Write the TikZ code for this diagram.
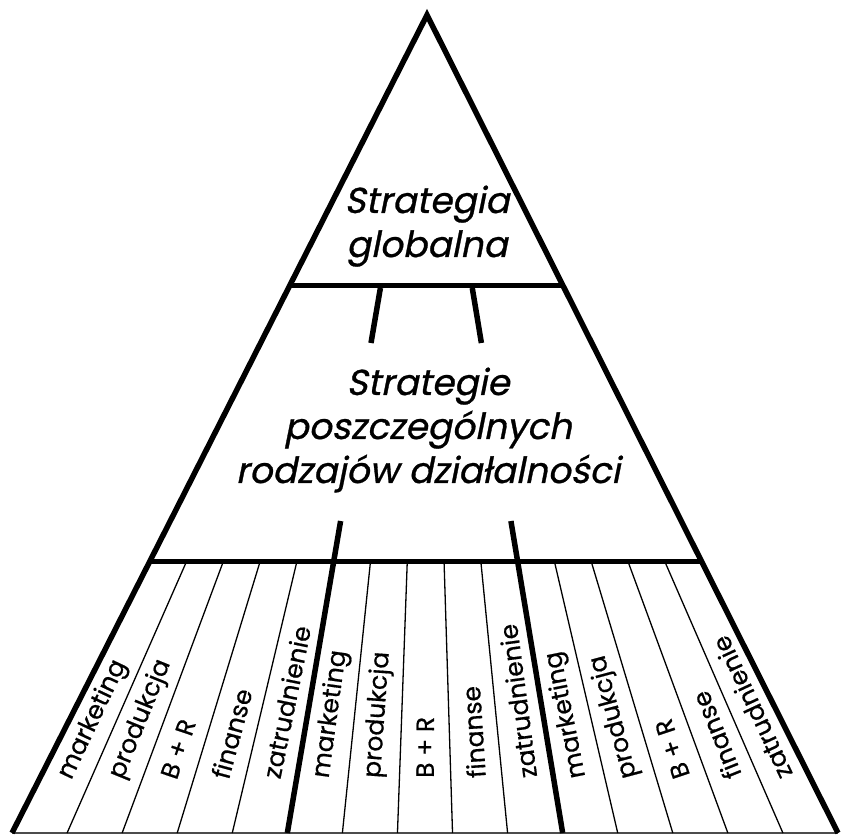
\documentclass[tikz,border=0pt]{standalone}
\usepackage{fontspec}
\newfontfamily\labfont[FakeBold=0.6]{Poppins}
\newfontfamily\titfont[FakeSlant=0.2,FakeBold=0.8]{Poppins}
\usetikzlibrary{calc}
\begin{document}
\begin{tikzpicture}[x=1pt,y=1pt,
  edge/.style={line width=5.5pt, line join=miter, line cap=butt},
  divider/.style={line width=5.5pt},
  band/.style={line width=5pt},
  strip/.style={line width=1.3pt},
  baseline/.style={line width=1.2pt, black!70},
  title/.style={font=\titfont\fontsize{36}{42}\selectfont, inner sep=0pt, anchor=base},
  lab/.style={font=\labfont\fontsize{25}{29}\selectfont, inner sep=0pt, anchor=west}]
\useasboundingbox (0,0) rectangle (841,835);
\fill[white] (0,0) rectangle (841,835);
\coordinate (A) at (427,820);
\coordinate (BL) at (12,2);
\coordinate (BR) at (838,2);
\foreach \k in {0,...,15} \coordinate (B\k) at ($(BL)!\k/15!(BR)$);
\draw[baseline] (BL) -- (BR);
% horizontal band lines
\draw[band] ($(BL)!0.6699!(A)$) -- ($(BR)!0.6699!(A)$);
\draw[band] ($(BL)!0.3313!(A)$) -- ($(BR)!0.3313!(A)$);
% thin strip lines
\foreach \k in {1,2,3,4,6,7,8,9,11,12,13,14}
  \draw[strip] ($(B\k)!0.3313!(A)$) -- (B\k);
% thick dividers
\foreach \k in {5,10} {
  \draw[divider] ($(B\k)!0.6663!(A)$) -- ($(B\k)!0.5990!(A)$);
  \draw[divider] ($(B\k)!0.3814!(A)$) -- (B\k);
}
% outline
\draw[edge] (BL) -- (A) -- (BR);
% titles
\node[title] (t1) at (427,622) {Strategia};
\node[title] (t2) at (427,578) {globalna};
\node[title] (m1) at (428,440) {Strategie};
\node[title] (m2) at (428,396) {poszczególnych};
\node[title] (m3) at (428,352) {rodzajów działalności};
% strip labels
\foreach \k/\t in {0/marketing,1/produkcja,2/B + R,3/finanse,4/zatrudnienie,
                   5/marketing,6/produkcja,7/B + R,8/finanse,9/zatrudnienie,
                   10/marketing,11/produkcja,12/B + R,13/finanse,14/zatrudnienie} {
  \pgfmathsetmacro\xb{12+(\k+0.5)*826/15}
  \pgfmathsetmacro\ang{atan2(818,427-\xb)}
  \node[lab, rotate=\ang] (l\k) at ($(\xb,2)!0.0672!(A)$) {\t};
}
\end{tikzpicture}
\end{document}
